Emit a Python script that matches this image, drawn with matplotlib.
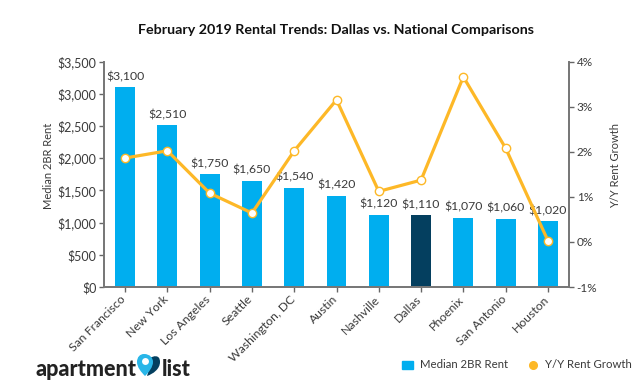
import matplotlib
matplotlib.use("Agg")
import matplotlib.pyplot as plt
from matplotlib.patches import PathPatch, Patch
from matplotlib.path import Path
from matplotlib.lines import Line2D
from matplotlib.transforms import ScaledTranslation

plt.rcParams['font.family'] = ['Lato', 'DejaVu Sans']

cities = ["San Francisco", "New York", "Los Angeles", "Seattle", "Washington, DC", "Austin",
          "Nashville", "Dallas", "Phoenix", "San Antonio", "Houston"]
rent = [3100, 2510, 1750, 1650, 1540, 1420, 1120, 1110, 1070, 1060, 1020]
growth = [1.86, 2.02, 1.08, 0.64, 2.02, 3.15, 1.12, 1.37, 3.66, 2.08, 0.03]
rent_ticks = [0, 500, 1000, 1500, 2000, 2500, 3000, 3500]
growth_ticks = [-1, 0, 1, 2, 3, 4]
highlight = "Dallas"

W, H = 638, 387
BLUE, NAVY, GOLD, INK = "#00AEEF", "#043F5F", "#FDB827", "#3A3A3A"

fig = plt.figure(figsize=(W/100, H/100), dpi=100)
ax = fig.add_axes([104/W, 1-287/H, (569-104)/W, (287-61.5)/H])
x = list(range(len(cities)))
colors = [NAVY if c == highlight else BLUE for c in cities]
ax.bar(x, rent, width=0.47, color=colors, zorder=2)
ax.set_xlim(-0.5, 10.5)
ax.set_ylim(0, 3500)
ax.set_yticks(rent_ticks)
ax.set_yticklabels([f"${v:,}" for v in rent_ticks], fontsize=9, color=INK)
ax.set_xticks(x)
ax.tick_params(axis="both", length=3.5, width=1, color="#666666", pad=2)
ax.set_xticklabels(cities, rotation=45, ha="right", rotation_mode="anchor", fontsize=8.8, color=INK)
shift = ScaledTranslation(-5/100, 1/100, fig.dpi_scale_trans)
for lab in ax.get_xticklabels():
    lab.set_transform(lab.get_transform() + shift)
ax.set_ylabel("Median 2BR Rent", fontsize=8, color=INK, labelpad=2.5, y=0.537)

for xi, v in zip(x, rent):
    ax.text(xi, v + 80, f"${v:,}", ha="center", va="bottom", fontsize=8.8, color=INK, zorder=6)

ax2 = ax.twinx()
ax2.plot(x, growth, color=GOLD, lw=2.3, marker="o", ms=6, mfc="white", mec=GOLD, mew=1, zorder=5)
ax2.set_ylim(-1, 4)
ax2.set_yticks(growth_ticks)
ax2.set_yticklabels([f"{v}%" for v in growth_ticks], fontsize=8.5, color=INK)
ax2.set_ylabel("Y/Y Rent Growth", fontsize=8, color=INK, labelpad=9.5, y=0.537)
ax2.tick_params(axis="y", length=3.5, width=1, color="#666666", pad=2)

for a in (ax, ax2):
    a.spines["top"].set_visible(False)
    for s in ("left", "right", "bottom"):
        a.spines[s].set_color("#777777")
        a.spines[s].set_linewidth(1.3)

fig.text(336/W, 1-30/H, "February 2019 Rental Trends: Dallas vs. National Comparisons",
         ha="center", va="center", fontsize=10.3, fontweight="bold", color="#111111")

# legend
handles = [Patch(color=BLUE, label="Median 2BR Rent"),
           Line2D([], [], ls="", marker="o", ms=5.5, color=GOLD, label="Y/Y Rent Growth")]
fig.legend(handles=handles, loc="center", bbox_to_anchor=(517/W, 1-365/H), ncol=2, frameon=False,
           fontsize=8.2, labelcolor=INK, handlelength=0.95, handletextpad=0.6, columnspacing=1.7,
           handleheight=0.7, borderpad=0)

# logo
fig.text(36/W, 1-369/H, "apartment", ha="left", va="center", fontsize=15.5, fontweight="black", color="#222222")
fig.text(162/W, 1-369/H, "list", ha="left", va="center", fontsize=15.5, fontweight="black", color="#222222")

def px(a, b):
    return (a/W, 1-b/H)

dark = Path([px(150, 358), px(153, 356), px(160, 354), px(160, 362),
             px(160, 369), px(153, 374), px(147, 376), px(149, 370), px(150, 364), px(150, 358)],
            [1, 4, 4, 4, 4, 4, 4, 4, 4, 4])
fig.add_artist(PathPatch(dark, fc=NAVY, ec="none", transform=fig.transFigure))
pin = Path([px(144, 354), px(150, 354), px(153, 358), px(153, 362),
            px(153, 367), px(149, 372), px(145, 376), px(141, 372), px(137, 367), px(137, 362),
            px(137, 357), px(140, 354), px(144, 354)],
           [1, 4, 4, 4, 4, 4, 4, 4, 4, 4, 4, 4, 4])
fig.add_artist(PathPatch(pin, fc="#29B6E8", ec="none", transform=fig.transFigure))
fig.add_artist(Line2D([145/W], [1-361/H], marker="o", ms=5, mfc="white", mec="none", transform=fig.transFigure))

fig.savefig("out.png", dpi=100)
